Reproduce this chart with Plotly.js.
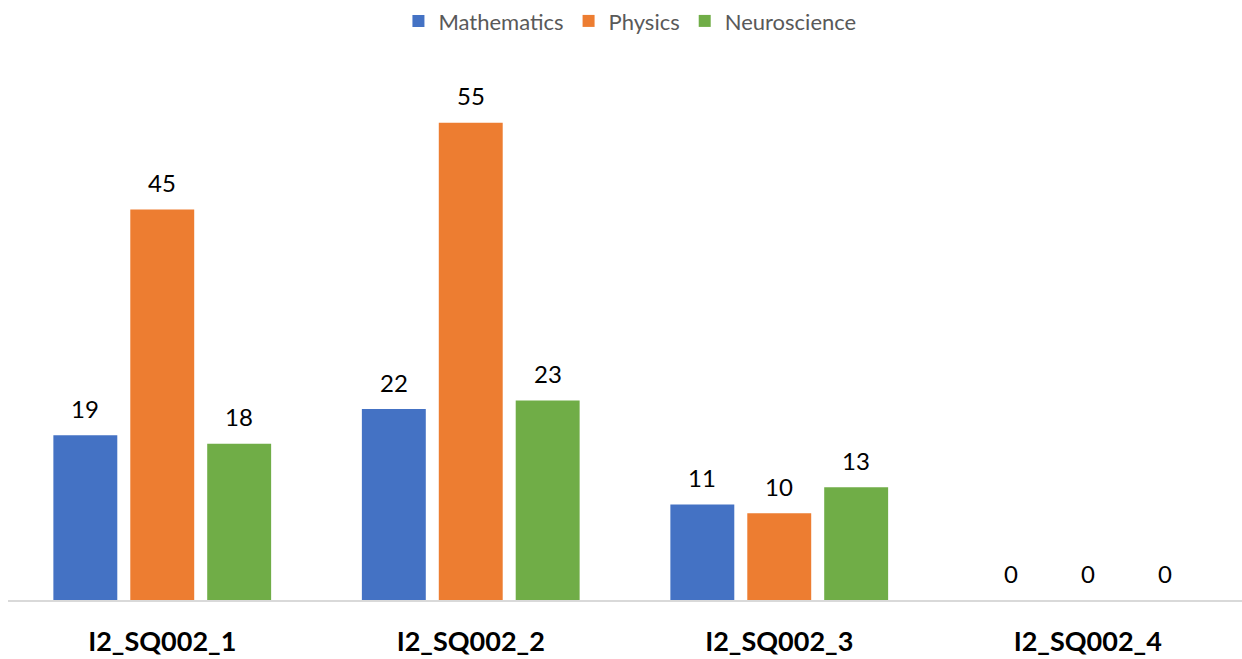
<!DOCTYPE html>
<html>
<head>
<meta charset="utf-8">
<script src="https://cdn.plot.ly/plotly-3.0.1.min.js"></script>
<style>html,body{margin:0;padding:0;background:#fff;}#chart{width:1242px;height:659px;}</style>
</head>
<body>
<div id="chart"></div>
<script>
const categories = ["I2_SQ002_1", "I2_SQ002_2", "I2_SQ002_3", "I2_SQ002_4"];
const seriesNames = ["Mathematics", "Physics", "Neuroscience"];
const mathematics = [19, 22, 11, 0];
const physics = [45, 55, 10, 0];
const neuroscience = [18, 23, 13, 0];
const colors = ["#4472C4", "#ED7D31", "#70AD47"];

const FONT = "Lato, 'Open Sans', sans-serif";
const BARGAP = 0.252;
const values = [mathematics, physics, neuroscience];
const nSeries = values.length;

const traces = values.map((v, i) => ({
  type: "bar",
  name: seriesNames[i],
  x: categories,
  y: v,
  marker: {color: colors[i]},
  hoverinfo: "x+y+name"
}));

// value labels above each bar, positioned at the bar's slot centre on the category axis
const annotations = [];
values.forEach((v, j) => {
  const slot = (1 - BARGAP) / nSeries;
  const off = (j - (nSeries - 1) / 2) * slot;
  v.forEach((val, i) => {
    annotations.push({
      x: i + off, xref: "x",
      y: val, yref: "y",
      text: String(val),
      showarrow: false,
      yanchor: "middle",
      yshift: 27,
      font: {family: FONT, size: 24, color: "#000000"}
    });
  });
});

const layout = {
  width: 1242,
  height: 659,
  margin: {l: 8, r: 0, t: 60, b: 59},
  paper_bgcolor: "#ffffff",
  plot_bgcolor: "#ffffff",
  barmode: "group",
  bargap: BARGAP,
  bargroupgap: 0.169,
  font: {family: FONT},
  showlegend: true,
  legend: {
    orientation: "h",
    x: 0.504, xanchor: "center",
    y: 1.076, yanchor: "middle",
    font: {size: 22, color: "#595959"},
    itemwidth: 30,
    traceorder: "normal"
  },
  annotations: annotations,
  xaxis: {
    showline: true,
    linecolor: "#D9D9D9",
    linewidth: 2,
    ticks: "",
    showgrid: false,
    zeroline: false,
    tickfont: {size: 27, color: "#000000", family: FONT, weight: "bold"},
    ticklabelstandoff: 17
  },
  yaxis: {
    range: [0, 62],
    visible: false,
    showgrid: false,
    zeroline: false
  }
};

Plotly.newPlot("chart", traces, layout, {displayModeBar: false, staticPlot: true});
</script>
</body>
</html>
